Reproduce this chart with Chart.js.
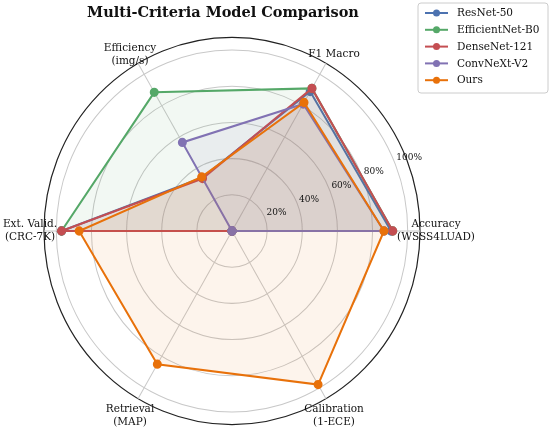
<!DOCTYPE html>
<html>
<head>
<meta charset="utf-8">
<script src="https://cdn.jsdelivr.net/npm/chart.js@4.4.1/dist/chart.umd.min.js"></script>
<style>
  html, body { margin: 0; padding: 0; background: #fff; }
  #wrap { width: 550px; height: 430px; position: relative; }
</style>
</head>
<body>
<div id="wrap"><canvas id="radar_chart"></canvas></div>
<script>
// criteria, counter-clockwise from the right (as in the original figure)
const criteria = [
    ['Accuracy', '(WSSS4LUAD)'],
    ['F1 Macro'],
    ['Efficiency', '(img/s)'],
    ['Ext. Valid.', '(CRC-7K)'],
    ['Retrieval', '(MAP)'],
    ['Calibration', '(1-ECE)']
];
const models = ['ResNet-50', 'EfficientNet-B0', 'DenseNet-121', 'ConvNeXt-V2', 'Ours'];
const resnet   = [0.905, 0.89, 0.34, 0.97, 0.00, 0.00];
const effnet   = [0.915, 0.91, 0.885, 0.97, 0.00, 0.00];
const densenet = [0.915, 0.91, 0.335, 0.97, 0.00, 0.00];
const convnext = [0.865, 0.81, 0.565, 0.00, 0.00, 0.00];
const ours     = [0.865, 0.82, 0.345, 0.87, 0.85, 0.98];
const tick_values = [0.2, 0.4, 0.6, 0.8, 1.0];
const tick_labels = ['20%', '40%', '60%', '80%', '100%'];
const colors = ['#4C72B0', '#55A868', '#C44E52', '#8172B3', '#E8710A'];

// chart.js goes clockwise, so flip the order (first stays on the right)
const order = [0, 5, 4, 3, 2, 1];
function reorder(arr) { return order.map(i => arr[i]); }

function fade(hex, a) {
    let n = parseInt(hex.slice(1), 16);
    return 'rgba(' + (n >> 16) + ',' + ((n >> 8) & 255) + ',' + (n & 255) + ',' + a + ')';
}

const series = [resnet, effnet, densenet, convnext, ours];
const datasets = series.map(function(values, k) {
    return {
        label: models[k],
        data: reorder(values),
        borderColor: colors[k],
        backgroundColor: fade(colors[k], 0.08),
        pointBackgroundColor: colors[k],
        pointBorderColor: colors[k],
        pointRadius: 3.5,
        borderWidth: 2,
        fill: true,
        order: series.length - k
    };
});

const serif = "'DejaVu Serif', serif";
const stretch = 1.03;   // the original polar axes is a touch taller than wide

const decorations = {
    id: 'decorations',
    beforeDraw(chart) {
        const scale = chart.scales.r;
        const ctx = chart.ctx;
        ctx.save();
        ctx.translate(scale.xCenter, scale.yCenter);
        ctx.scale(1, stretch);
        ctx.translate(-scale.xCenter, -scale.yCenter);
    },
    afterDraw(chart) {
        const ctx = chart.ctx;
        ctx.restore();
        const scale = chart.scales.r;
        const cx = scale.xCenter, cy = scale.yCenter;
        ctx.save();
        ctx.fillStyle = '#111';

        // title
        ctx.font = 'bold 14.5px ' + serif;
        ctx.textAlign = 'center';
        ctx.textBaseline = 'middle';
        ctx.fillText('Multi-Criteria Model Comparison', cx - 9, 13);

        // axis names
        ctx.font = '10.5px ' + serif;
        const labels = chart.data.labels;
        const dist = scale.drawingArea + 16;
        labels.forEach(function(lab, i) {
            const p = scale.getPointPosition(i, dist);
            const lh = 13;
            let y0 = p.y - (lab.length - 1) * lh / 2;
            if (p.y > cy + 10) y0 += 8;
            let x = p.x;
            if (p.x < cx - dist + 5) x += 2;
            lab.forEach(function(line, j) {
                ctx.fillText(line, x, y0 + j * lh);
            });
        });

        // radial tick labels at 22.5 degrees
        ctx.font = '9px ' + serif;
        ctx.textAlign = 'left';
        ctx.textBaseline = 'middle';
        const a = 22.5 * Math.PI / 180;
        tick_values.forEach(function(v, i) {
            const d = scale.getDistanceFromCenterForValue(v);
            ctx.fillText(tick_labels[i], cx + Math.cos(a) * d + 2, cy - Math.sin(a) * d * stretch - 4);
        });

        // legend
        const lx = 418, ly = 3, lw = 130, rowH = 16.8;
        const lh = rowH * models.length + 6;
        ctx.beginPath();
        ctx.roundRect(lx, ly, lw, lh, 3);
        ctx.fillStyle = 'rgba(255,255,255,0.8)';
        ctx.fill();
        ctx.strokeStyle = '#cccccc';
        ctx.lineWidth = 1;
        ctx.stroke();
        ctx.font = '10.5px ' + serif;
        ctx.textAlign = 'left';
        ctx.textBaseline = 'middle';
        chart.data.datasets.forEach(function(ds, k) {
            const y = ly + 10 + k * rowH;
            ctx.strokeStyle = ds.borderColor;
            ctx.lineWidth = 2;
            ctx.beginPath();
            ctx.moveTo(lx + 7, y);
            ctx.lineTo(lx + 30, y);
            ctx.stroke();
            ctx.fillStyle = ds.borderColor;
            ctx.beginPath();
            ctx.arc(lx + 18.5, y, 3.5, 0, Math.PI * 2);
            ctx.fill();
            ctx.fillStyle = '#111';
            ctx.fillText(ds.label, lx + 39, y + 0.5);
        });
        ctx.restore();
    }
};

const ctx = document.getElementById('radar_chart').getContext('2d');
let myChart = new Chart(ctx, {
    type: 'radar',
    data: {
        labels: reorder(criteria),
        datasets: datasets
    },
    options: {
        responsive: true,
        maintainAspectRatio: false,
        animation: false,
        layout: {
            padding: { left: 44, right: 130, top: 43, bottom: 11 }
        },
        elements: {
            line: { tension: 0 }
        },
        scales: {
            r: {
                min: 0,
                max: 1.07,
                startAngle: 90,
                ticks: { display: false, stepSize: 0.2 },
                pointLabels: { display: false },
                grid: {
                    circular: true,
                    color: function(c) { return c.tick && c.tick.value > 1.05 ? '#222' : '#c8c8c8'; },
                    lineWidth: function(c) { return c.tick && c.tick.value > 1.05 ? 1.2 : 1; }
                },
                angleLines: { color: '#c8c8c8', lineWidth: 1 }
            }
        },
        plugins: {
            legend: { display: false },
            title: { display: false },
            tooltip: { enabled: false }
        }
    },
    plugins: [decorations]
});
</script>
</body>
</html>
